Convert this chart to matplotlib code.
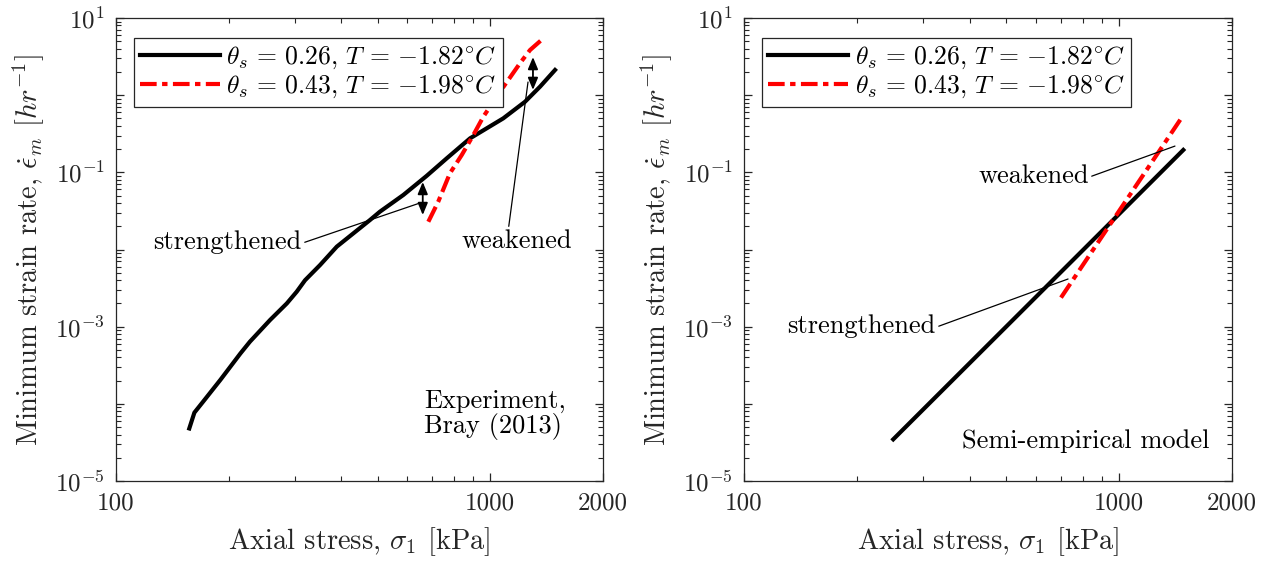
import math
import matplotlib
matplotlib.use("Agg")
import matplotlib.pyplot as plt
from matplotlib.ticker import FixedLocator, FuncFormatter, NullFormatter

plt.rcParams['font.family'] = 'serif'
plt.rcParams['font.serif'] = ['cmr10']
plt.rcParams['mathtext.fontset'] = 'cm'
plt.rcParams['axes.formatter.use_mathtext'] = True
plt.rcParams['font.size'] = 19

# experiment (Bray 2013): axial stress [kPa] vs minimum strain rate [1/hr]
stress_exp_a = [157, 162, 171, 190, 215, 228, 258, 286, 304, 320, 351, 389,
                477, 507, 586, 676, 765, 883, 1083, 1238, 1358, 1489]
rate_exp_a = [4.8e-5, 7.7e-5, 1.07e-4, 2.04e-4, 4.5e-4, 6.4e-4, 1.22e-3, 2.0e-3,
              2.84e-3, 4.0e-3, 6.3e-3, 1.09e-2, 2.41e-2, 3.09e-2, 5.1e-2, 9.0e-2,
              0.152, 0.276, 0.501, 0.822, 1.29, 2.12]
stress_exp_b = [683, 726, 780, 839, 901, 958, 1062, 1200, 1277, 1386]
rate_exp_b = [0.0229, 0.0417, 0.0972, 0.168, 0.305, 0.526, 1.11, 2.59, 3.85, 5.46]

# semi-empirical model, power-law lines
stress_mod_a = [250, 1483]
rate_mod_a = [3.47e-5, 0.195]
stress_mod_b = [700, 1478]
rate_mod_b = [2.38e-3, 0.537]

labels = [r'$\theta_s\,=\,0.26$, $T\,=\,{-}1.82^{\circ}C$',
          r'$\theta_s\,=\,0.43$, $T\,=\,{-}1.98^{\circ}C$']
x_ticks = [100, 1000, 2000]
x_minor = [200, 300, 400, 500, 600, 700, 800, 900]
y_ticks = [1e-5, 1e-4, 1e-3, 1e-2, 1e-1, 1, 10]
y_minor = [m * 10.0 ** e for e in range(-5, 1) for m in range(2, 10)]

axis_col = '#262626'
dash_dot = (4, 1.3, 1.3, 1.3)

fig = plt.figure(figsize=(12.7, 5.63), dpi=100)
ax1 = fig.add_axes([0.0913, 0.1456, 0.3835, 0.8224])
ax2 = fig.add_axes([0.5858, 0.1456, 0.3843, 0.8224])


def y_fmt(v, pos):
    e = int(round(math.log10(v)))
    if e % 2 == 0:
        return ''
    return r'$10^{%d}$' % e


for ax in (ax1, ax2):
    ax.set_xscale('log')
    ax.set_yscale('log')
    ax.set_xlim(100, 2000)
    ax.set_ylim(1e-5, 10)
    ax.xaxis.set_major_locator(FixedLocator(x_ticks))
    ax.xaxis.set_minor_locator(FixedLocator(x_minor))
    ax.xaxis.set_major_formatter(FuncFormatter(lambda v, p: '%d' % v))
    ax.xaxis.set_minor_formatter(NullFormatter())
    ax.yaxis.set_major_locator(FixedLocator(y_ticks))
    ax.yaxis.set_minor_locator(FixedLocator(y_minor))
    ax.yaxis.set_major_formatter(FuncFormatter(y_fmt))
    ax.yaxis.set_minor_formatter(NullFormatter())
    ax.tick_params(which='both', direction='in', top=True, right=True,
                   color=axis_col, labelcolor='#262626', labelsize=18)
    ax.tick_params(which='major', length=5.5, width=0.9, pad=8)
    ax.tick_params(which='minor', length=3.5, width=0.8)
    for s in ax.spines.values():
        s.set_color(axis_col)
        s.set_linewidth(0.9)
    ax.set_xlabel(r'Axial stress, $\sigma_1$ [kPa]', fontsize=20.5,
                  color='#262626', labelpad=8)
    ax.set_ylabel(r'Minimum strain rate, $\dot{\epsilon}_m$ $[hr^{-1}]$',
                  fontsize=20.5, color='#262626', labelpad=6)

line_kw = dict(arrowstyle='-', lw=0.9, color='k', shrinkA=0, shrinkB=0)
dbl_kw = dict(arrowstyle='<|-|>, head_length=0.6, head_width=0.25',
              mutation_scale=12, lw=1.3, color='k', shrinkA=0, shrinkB=0)

# left panel: experiment
ax1.plot(stress_exp_a, rate_exp_a, color='k', lw=3, label=labels[0])
ax1.plot(stress_exp_b, rate_exp_b, color='red', lw=3, dashes=dash_dot,
         label=labels[1])
ax1.annotate('', xy=(660, 0.028), xytext=(660, 0.075), arrowprops=dbl_kw)
ax1.annotate('', xy=(1300, 1.17), xytext=(1300, 3.12), arrowprops=dbl_kw)
ax1.annotate('strengthened', xy=(649, 0.0401), xytext=(314, 0.0125),
             ha='right', va='center',
             arrowprops=dict(line_kw, relpos=(1.0, 0.45)))
ax1.annotate('weakened', xy=(1261, 1.48), xytext=(1179, 0.0129),
             ha='center', va='center',
             arrowprops=dict(line_kw, relpos=(0.42, 0.95)))
ax1.text(0.632, 0.1436, 'Experiment,\nBray (2013)', transform=ax1.transAxes,
         ha='left', va='center', linespacing=1.0)

# right panel: model
ax2.plot(stress_mod_a, rate_mod_a, color='k', lw=3, label=labels[0])
ax2.plot(stress_mod_b, rate_mod_b, color='red', lw=3, dashes=dash_dot,
         label=labels[1])
ax2.annotate('weakened', xy=(1409, 0.219), xytext=(831, 0.0897),
             ha='right', va='center',
             arrowprops=dict(line_kw, relpos=(1.0, 0.45)))
ax2.annotate('strengthened', xy=(731, 4.15e-3), xytext=(325, 1.02e-3),
             ha='right', va='center',
             arrowprops=dict(line_kw, relpos=(1.0, 0.45)))
ax2.text(0.953, 0.086, 'Semi-empirical model', transform=ax2.transAxes,
         ha='right', va='center')

for ax in (ax1, ax2):
    leg = ax.legend(loc='upper left', bbox_to_anchor=(0.037, 0.956),
                    fontsize=18.5, handlelength=3.1, handletextpad=0.25,
                    borderpad=0.25, labelspacing=0.1, borderaxespad=0,
                    fancybox=False, framealpha=1, edgecolor=axis_col)
    leg.get_frame().set_linewidth(0.9)

fig.savefig('out.png', dpi=100)
